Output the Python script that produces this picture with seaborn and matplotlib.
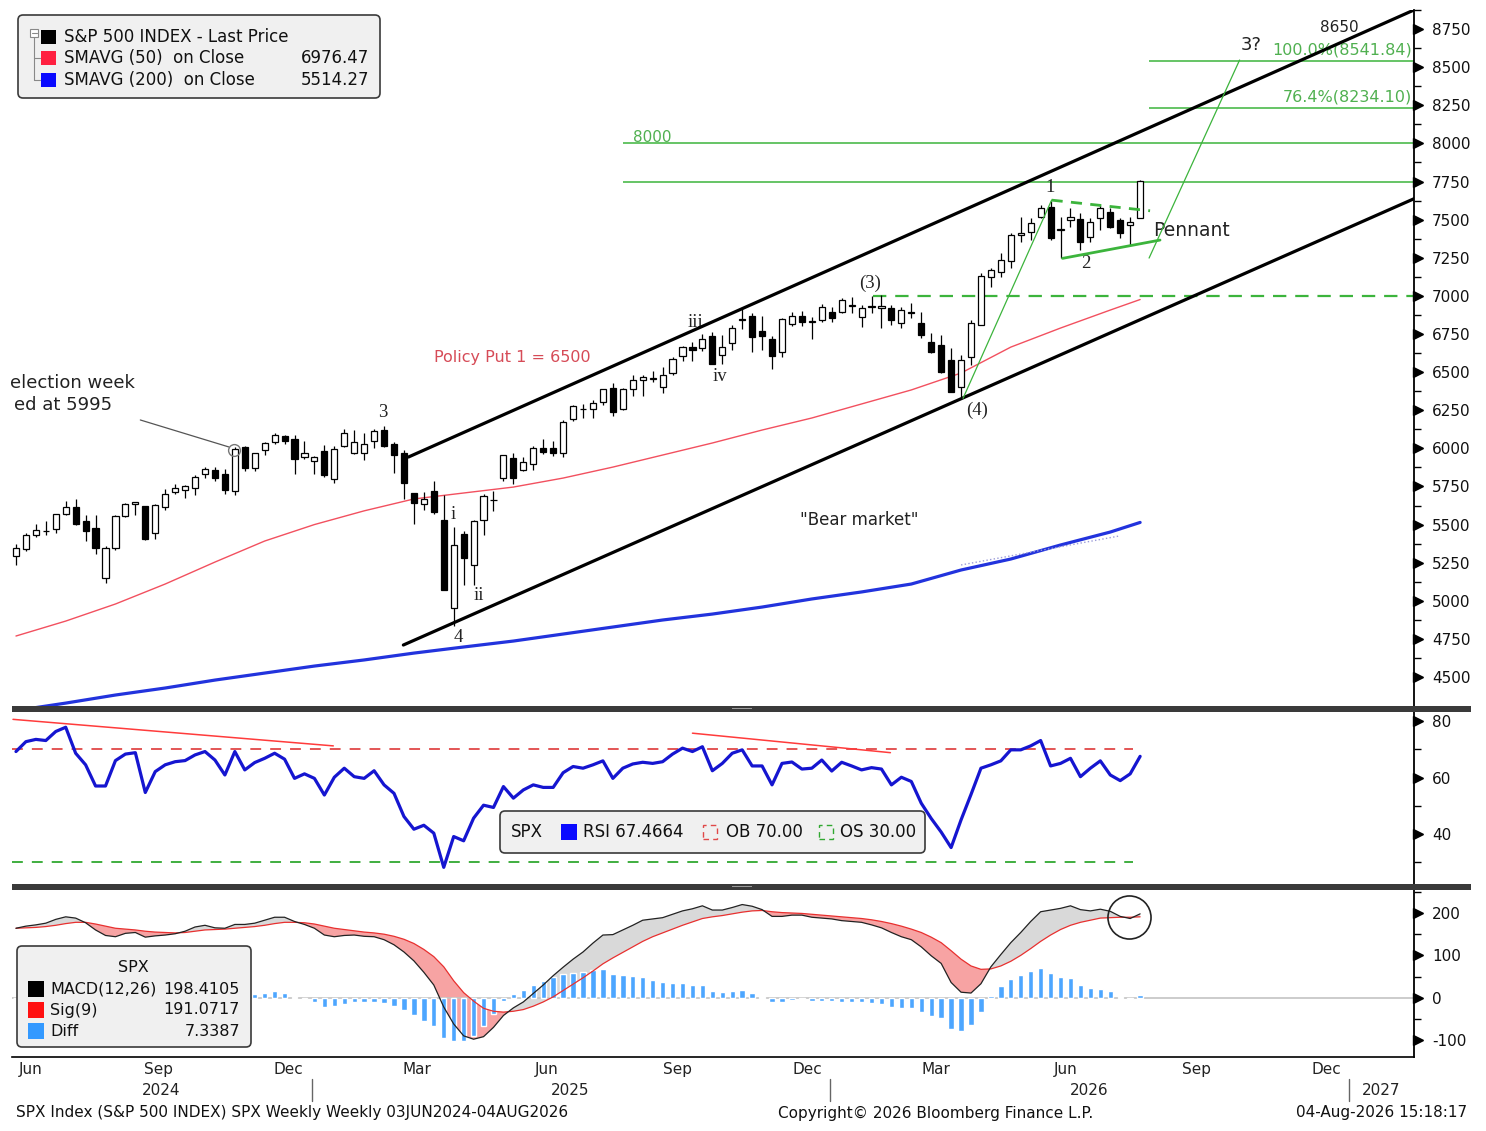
import numpy as np
import pandas as pd
import matplotlib
matplotlib.use("Agg")
import matplotlib.pyplot as plt
import matplotlib.dates as mdates
from matplotlib.patches import FancyBboxPatch, Rectangle
from matplotlib.lines import Line2D
from matplotlib.transforms import IdentityTransform
import seaborn as sns

# ==========================================
# DATOS (velas semanales SPX, 03JUN2024 - 04AUG2026)
# ==========================================
apertura = [
    5297, 5341, 5431, 5460, 5471, 5572, 5616, 5525, 5476, 5151,
    5345, 5557, 5637, 5623, 5442, 5615, 5711, 5727, 5737, 5830,
    5857, 5833, 5723, 6008, 5874, 5992, 6040, 6083, 6063, 5940,
    5920, 5982, 5797, 6014, 5969, 5969, 6046, 6121, 6026, 5969,
    5705, 5635, 5718, 5527, 4953, 5441, 5233, 5529, 5659, 5808,
    5935, 5855, 5897, 6004, 6005, 5970, 6193, 6255, 6255, 6304,
    6397, 6260, 6389, 6445, 6457, 6401, 6494, 6604, 6664, 6661,
    6740, 6610, 6690, 6850, 6868, 6770, 6719, 6629, 6813, 6870,
    6830, 6840, 6896, 6896, 6935, 6863, 6930, 6918, 6918, 6819,
    6896, 6824, 6699, 6677, 6579, 6404, 6601, 6809, 7121, 7158,
    7231, 7399, 7421, 7519, 7585, 7432, 7497, 7502, 7388, 7508,
    7552, 7497, 7464, 7508]
maximo = [
    5375, 5447, 5505, 5524, 5570, 5655, 5670, 5564, 5566, 5360,
    5564, 5643, 5651, 5623, 5636, 5733, 5767, 5762, 5822, 5878,
    5878, 5863, 6012, 6018, 5972, 6044, 6099, 6085, 6085, 6050,
    5950, 6022, 6014, 6128, 6120, 6101, 6127, 6147, 6044, 5986,
    5705, 5715, 5787, 5695, 5481, 5460, 5528, 5700, 5720, 5958,
    5968, 5944, 6016, 6059, 6050, 6187, 6284, 6290, 6315, 6390,
    6427, 6395, 6481, 6478, 6509, 6533, 6600, 6671, 6699, 6750,
    6764, 6744, 6808, 6920, 6890, 6869, 6737, 6853, 6895, 6901,
    6860, 6945, 6930, 6984, 6994, 6940, 7000, 7005, 6940, 6929,
    6951, 6896, 6754, 6743, 6656, 6612, 6841, 7147, 7180, 7279,
    7410, 7519, 7508, 7596, 7624, 7519, 7574, 7541, 7508, 7596,
    7574, 7508, 7519, 7760]
minimo = [
    5234, 5325, 5420, 5433, 5446, 5562, 5497, 5391, 5306, 5120,
    5330, 5547, 5561, 5402, 5406, 5597, 5698, 5675, 5696, 5804,
    5783, 5703, 5696, 5853, 5854, 5956, 6030, 6026, 5832, 5933,
    5829, 5809, 5774, 6007, 5962, 5923, 6003, 6009, 5837, 5666,
    5505, 5597, 5572, 5069, 4835, 5101, 5102, 5434, 5590, 5786,
    5767, 5854, 5861, 5963, 5952, 5944, 6178, 6201, 6202, 6281,
    6212, 6250, 6342, 6343, 6432, 6360, 6480, 6570, 6570, 6640,
    6550, 6550, 6646, 6782, 6631, 6646, 6521, 6600, 6800, 6800,
    6720, 6830, 6830, 6885, 6885, 6798, 6885, 6787, 6809, 6787,
    6852, 6721, 6623, 6492, 6371, 6339, 6546, 6809, 7060, 7126,
    7180, 7355, 7366, 7508, 7366, 7246, 7454, 7301, 7355, 7432,
    7443, 7377, 7333, 7508]
cierre = [
    5347, 5431, 5465, 5460, 5567, 5615, 5505, 5459, 5346, 5344,
    5554, 5634, 5648, 5408, 5626, 5703, 5738, 5751, 5815, 5864,
    5808, 5729, 5995, 5870, 5969, 6032, 6090, 6051, 5931, 5971,
    5942, 5827, 5997, 6101, 6041, 6026, 6115, 6013, 5955, 5770,
    5639, 5667, 5581, 5074, 5363, 5283, 5525, 5686, 5660, 5958,
    5803, 5912, 6000, 5977, 5968, 6173, 6279, 6260, 6297, 6389,
    6238, 6389, 6450, 6467, 6460, 6482, 6584, 6664, 6644, 6716,
    6553, 6664, 6792, 6840, 6729, 6734, 6603, 6849, 6870, 6827,
    6834, 6930, 6858, 6973, 6942, 6918, 6936, 6933, 6841, 6907,
    6885, 6743, 6634, 6503, 6371, 6579, 6819, 7130, 7169, 7235,
    7399, 7410, 7475, 7574, 7377, 7436, 7519, 7355, 7486, 7574,
    7454, 7410, 7486, 7755]

sma50_semana = [0, 5, 10, 15, 20, 25, 30, 35, 40, 45, 50, 55,
                60, 65, 70, 75, 80, 85, 90, 95, 100, 105, 110, 113]
sma50_valor = [4769, 4867, 4979, 5110, 5254, 5392, 5500, 5590, 5668, 5707, 5746, 5805,
               5877, 5956, 6035, 6120, 6199, 6291, 6383, 6494, 6664, 6789, 6907, 6976]
sma200_semana = [0, 5, 10, 15, 20, 25, 30, 35, 40, 45, 50, 55,
                 60, 65, 70, 75, 80, 85, 90, 95, 100, 105, 110, 113]
sma200_valor = [4280, 4329, 4382, 4428, 4480, 4526, 4572, 4612, 4657, 4697, 4736, 4782,
                4828, 4874, 4913, 4959, 5012, 5058, 5110, 5202, 5274, 5366, 5451, 5514]

rsi = [
    69.2, 72.7, 73.5, 73.1, 76.3, 77.8, 68.6, 64.5, 57.0, 57.0,
    66.0, 68.3, 68.8, 54.7, 62.1, 64.5, 65.6, 66.0, 68.0, 69.2,
    66.2, 60.9, 69.2, 62.7, 65.3, 66.8, 68.6, 66.5, 59.7, 61.3,
    59.7, 53.8, 60.1, 63.3, 60.3, 59.7, 62.4, 57.4, 54.4, 46.2,
    41.7, 43.1, 40.3, 28.2, 39.1, 37.6, 45.6, 50.2, 49.4, 56.8,
    52.7, 55.6, 57.4, 56.5, 56.5, 61.7, 63.9, 63.3, 64.5, 65.9,
    59.7, 63.3, 64.8, 65.4, 65.0, 65.6, 68.3, 70.4, 69.2, 70.9,
    62.4, 65.0, 68.6, 69.8, 64.1, 64.1, 57.4, 65.0, 65.5, 63.0,
    63.3, 66.2, 62.3, 65.4, 64.1, 62.7, 63.5, 63.0, 57.4, 60.1,
    58.6, 50.9, 45.5, 40.7, 35.2, 45.0, 54.0, 63.3, 64.5, 65.9,
    69.8, 69.8, 71.2, 73.1, 64.1, 65.0, 66.8, 60.3, 63.3, 65.9,
    60.9, 58.9, 61.3, 67.5]

macd = [
    164, 169, 172, 176, 185, 191, 188, 177, 160, 147,
    144, 152, 154, 143, 146, 148, 151, 157, 167, 171,
    165, 164, 173, 173, 176, 183, 190, 190, 180, 173,
    164, 148, 144, 147, 148, 145, 144, 137, 125, 108,
    87, 60, 30, -22, -62, -90, -98, -92, -70, -42,
    -24, -10, 10, 30, 52, 72, 91, 108, 129, 148,
    149, 160, 171, 183, 186, 189, 197, 205, 210, 217,
    207, 207, 213, 220, 216, 208, 192, 192, 195, 195,
    190, 188, 186, 182, 180, 178, 172, 165, 154, 144,
    137, 120, 99, 81, 36, 13, 11, 33, 73, 102,
    130, 154, 180, 203, 207, 211, 217, 208, 205, 209,
    204, 192, 187, 198]
senal = [
    164, 165, 166, 168, 171, 175, 178, 178, 174, 169,
    164, 162, 160, 157, 155, 154, 153, 154, 157, 160,
    161, 162, 164, 166, 168, 171, 175, 178, 178, 177,
    174, 169, 164, 161, 158, 155, 153, 150, 145, 138,
    128, 114, 97, 73, 40, 12, -8, -25, -32, -34,
    -32, -28, -20, -10, 2, 17, 32, 47, 63, 80,
    94, 107, 120, 133, 144, 153, 162, 171, 179, 187,
    191, 194, 198, 202, 205, 206, 203, 201, 200, 199,
    197, 195, 193, 191, 189, 187, 184, 180, 175, 169,
    162, 154, 143, 130, 111, 91, 75, 67, 68, 75,
    86, 100, 116, 133, 148, 161, 171, 178, 183, 188,
    189, 190, 190, 191]
diferencia = [
    0, 4, 6, 8, 14, 16, 10, -1, -14, -22,
    -20, -10, -6, -14, -9, -6, -2, 3, 10, 11,
    4, 2, 9, 7, 8, 12, 15, 12, 2, -4,
    -10, -21, -20, -14, -10, -10, -9, -13, -20, -30,
    -41, -54, -67, -95, -102, -102, -90, -67, -38, -8,
    8, 18, 30, 40, 50, 55, 59, 61, 66, 68,
    55, 53, 51, 50, 42, 36, 35, 34, 31, 30,
    16, 13, 15, 18, 11, 2, -11, -9, -5, -4,
    -7, -7, -7, -9, -9, -9, -12, -15, -21, -25,
    -25, -34, -44, -49, -75, -78, -64, -34, 5, 27,
    44, 54, 64, 70, 59, 50, 46, 30, 22, 21,
    15, 2, -3, 7]

inicio = pd.Timestamp("2024-06-07")
semanas = pd.date_range(inicio, periods=len(cierre), freq="7D")


def fecha(w):
    return inicio + pd.Timedelta(days=7 * w)


# ==========================================
# LIENZO
# ==========================================
sns.set_style("white")
plt.rcParams["font.family"] = ["DejaVu Sans"]
plt.rcParams["axes.unicode_minus"] = False

W, H = 1486, 1131
fig = plt.figure(figsize=(W / 100, H / 100), dpi=100)
PX = IdentityTransform()


def ejes(arriba, abajo):
    return fig.add_axes([12 / W, 1 - abajo / H, (1414 - 12) / W, (abajo - arriba) / H])


ax_p = ejes(10, 706)
ax_r = ejes(712, 884)
ax_m = ejes(889, 1057)

x0 = pd.Timestamp("2024-06-04 05:00")
x1 = pd.Timestamp("2027-02-15 17:00")


def estilo(ax, mayores, menores, lim):
    ax.set_xlim(x0, x1)
    ax.set_ylim(*lim)
    for s in ["top", "left", "bottom"]:
        ax.spines[s].set_visible(False)
    ax.spines["right"].set_color("black")
    ax.spines["right"].set_linewidth(1.3)
    ax.yaxis.tick_right()
    ax.set_yticks(mayores)
    ax.set_yticks(menores, minor=True)
    ax.tick_params(axis="y", which="major", length=0, pad=13, labelsize=11, colors="#111111")
    ax.tick_params(axis="y", which="minor", length=5, width=1, direction="out", colors="black")
    ax.plot([1.0 + 4 / 1402] * len(mayores), mayores, marker=">", ms=6.5, color="black",
            ls="none", transform=ax.get_yaxis_transform(), clip_on=False)
    ax.set_xlabel("")
    ax.set_ylabel("")
    ax.grid(False)


VERDE = "#3cb43c"

# ==========================================
# PANEL 1: PRECIO
# ==========================================
df = pd.DataFrame({"fecha": semanas, "o": apertura, "h": maximo, "l": minimo, "c": cierre})
sube = df["c"] >= df["o"]
ax_p.vlines(df["fecha"], df["l"], df["h"], color="black", lw=0.9, zorder=3)
ax_p.bar(df["fecha"][sube], (df["c"] - df["o"])[sube], bottom=df["o"][sube], width=4.3,
         color="white", edgecolor="black", lw=0.9, zorder=4)
ax_p.bar(df["fecha"][~sube], (df["o"] - df["c"])[~sube], bottom=df["c"][~sube], width=4.3,
         color="black", edgecolor="black", lw=0.9, zorder=4)

sns.lineplot(x=semanas[sma50_semana], y=sma50_valor, ax=ax_p, color="#f2505f", lw=1.0, zorder=2)
sns.lineplot(x=semanas[sma200_semana], y=sma200_valor, ax=ax_p, color="#2233dd", lw=2.3, zorder=2)
ax_p.plot([fecha(95), fecha(110.9)], [5235, 5425], color="#9a9ad8", lw=1, ls=":", zorder=2)

# canal
ax_p.plot([fecha(39.45), fecha(140.7)], [5943, 8880], color="black", lw=2.3, zorder=5)
ax_p.plot([fecha(38.94), fecha(140.7)], [4710, 7642], color="black", lw=2.3, zorder=5)

# niveles horizontales
ax_p.hlines([8000, 7750], fecha(61), x1, color=VERDE, lw=1.1, zorder=2)
ax_p.hlines([8541.84, 8234.10], fecha(113.9), x1, color=VERDE, lw=1.1, zorder=2)
ax_p.hlines(7000, fecha(86.1), x1, color=VERDE, lw=1.6, linestyles=(0, (6, 4)), zorder=2)

# lineas de ondas y banderin
ax_p.plot([fecha(95.2), fecha(104.1)], [6328, 7628], color=VERDE, lw=0.9, zorder=5)
ax_p.plot([fecha(113.9), fecha(123.0)], [7248, 8547], color=VERDE, lw=0.9, zorder=5)
ax_p.plot([fecha(105.2), fecha(115.0)], [7246, 7366], color=VERDE, lw=2.0, zorder=5)
ax_p.plot([fecha(104.1), fecha(114.0)], [7628, 7558], color=VERDE, lw=2.0, ls=(0, (4, 3)), zorder=5)

# anotacion semana electoral (solo la parte visible en el original)
ax_p.plot([fecha(12.5), fecha(21.4)], [6186, 6009], color="#555555", lw=0.9, zorder=5)
ax_p.plot([fecha(21.9)], [5989], marker="o", ms=8.5, mfc="none", mec="#777777", mew=1, zorder=6)
ax_p.text(fecha(12.0), 6428, "election week", ha="right", va="center", fontsize=13, color="#222222")
ax_p.text(fecha(9.66), 6284, "ed at 5995", ha="right", va="center", fontsize=13, color="#222222")

ax_p.text(fecha(42), 6599, "Policy Put 1 = 6500", ha="left", va="center", fontsize=11.5, color="#d64b57")
ax_p.text(fecha(84.8), 5530, "\"Bear market\"", ha="center", va="center", fontsize=12, color="#222222")
ax_p.text(fecha(114.3), 7432, "Pennant", ha="left", va="center", fontsize=13.5, color="#222222")
ax_p.text(fecha(64), 8042, "8000", ha="center", va="center", fontsize=11, color="#50b050")
ax_p.text(fecha(140.3), 8612, "100.0%(8541.84)", ha="right", va="center", fontsize=11.5, color="#50b050")
ax_p.text(fecha(140.3), 8304, "76.4%(8234.10)", ha="right", va="center", fontsize=11.5, color="#50b050")
ax_p.text(fecha(133), 8763, "8650", ha="center", va="center", fontsize=11, color="#222222")
ax_p.text(fecha(124.2), 8645, "3?", ha="center", va="center", fontsize=13, color="#222222")

ondas = [("3", 36.9, 6238), ("4", 44.5, 4762), ("i", 44.0, 5563), ("ii", 46.5, 5038),
         ("iii", 68.3, 6828), ("iv", 70.8, 6468), ("(3)", 85.9, 7084), ("(4)", 96.6, 6251),
         ("1", 104.0, 7714), ("2", 107.5, 7215)]
for etiqueta, w, p in ondas:
    ax_p.text(fecha(w), p, etiqueta, ha="center", va="center", fontsize=13.5,
              family="Liberation Serif", color="#222222")

estilo(ax_p, list(range(4500, 8751, 250)), list(range(4625, 8876, 250)), (4310, 8875))
ax_p.set_xticks([])

# ==========================================
# PANEL 2: RSI
# ==========================================
sns.lineplot(x=semanas, y=rsi, ax=ax_r, color="#1515d0", lw=2.3, zorder=3)
ax_r.hlines(70, x0, fecha(112.3), color="#e04848", lw=1.3, linestyles=(0, (6, 5)), zorder=2)
ax_r.hlines(30, x0, fecha(112.3), color="#30a830", lw=1.3, linestyles=(0, (6, 5)), zorder=2)
ax_r.plot([fecha(-0.3), fecha(31.9)], [80.6, 71.2], color="#ff3b3b", lw=1.1, zorder=2)
ax_r.plot([fecha(68.0), fecha(87.9)], [75.7, 68.8], color="#ff3b3b", lw=1.1, zorder=2)
estilo(ax_r, [40, 60, 80], [30, 50, 70], (22.3, 83.2))
ax_r.set_xticks([])

# ==========================================
# PANEL 3: MACD
# ==========================================
m = np.array(macd, dtype=float)
s = np.array(senal, dtype=float)
ax_m.fill_between(semanas, m, s, where=m >= s, interpolate=True, color="#d9d9d9", lw=0, zorder=1)
ax_m.fill_between(semanas, m, s, where=m < s, interpolate=True, color="#f7a3a3", lw=0, zorder=1)
ax_m.axhline(0, color="#c4c4c4", lw=1.2, zorder=1)
ax_m.bar(semanas, diferencia, width=3.8, color="#4da6ff", zorder=2)
sns.lineplot(x=semanas, y=senal, ax=ax_m, color="#e8302f", lw=0.9, zorder=3)
sns.lineplot(x=semanas, y=macd, ax=ax_m, color="#222222", lw=0.9, zorder=4)
ax_m.plot([fecha(111.9)], [190], marker="o", ms=31, mfc="none", mec="#222222", mew=1.2, zorder=5)
estilo(ax_m, [-100, 0, 100, 200], [-50, 50, 150, 250], (-140, 256.7))
ax_m.spines["bottom"].set_visible(True)
ax_m.spines["bottom"].set_color("black")
ax_m.spines["bottom"].set_linewidth(1.2)
ax_m.xaxis.set_major_locator(mdates.MonthLocator())
ax_m.xaxis.set_major_formatter(plt.NullFormatter())
ax_m.tick_params(axis="x", which="major", length=6, width=1, direction="out", colors="black")

# meses y anios
tr = ax_m.get_xaxis_transform()
meses = {3: "Mar", 6: "Jun", 9: "Sep", 12: "Dec"}
for anio in [2024, 2025, 2026]:
    for mes, nombre in meses.items():
        ini = pd.Timestamp(anio, mes, 1)
        fin = ini + pd.offsets.MonthEnd(1)
        ini, fin = max(ini, x0), min(fin, x1)
        if ini >= fin:
            continue
        ax_m.text(ini + (fin - ini) / 2, -0.077, nombre, transform=tr, ha="center", va="center",
                  fontsize=11, color="#222222", clip_on=False)
for anio in [2024, 2025, 2026, 2027]:
    ini = max(pd.Timestamp(anio, 1, 1), x0)
    fin = min(pd.Timestamp(anio, 12, 31), x1)
    ax_m.text(ini + (fin - ini) / 2, -0.20, str(anio), transform=tr, ha="center", va="center",
              fontsize=11, color="#222222", clip_on=False)
    if anio > 2024:
        ax_m.plot([pd.Timestamp(anio, 1, 1)] * 2, [-0.13, -0.262], transform=tr, color="#666666",
                  lw=1, clip_on=False)

# ==========================================
# SEPARADORES, LEYENDAS Y PIE
# ==========================================
def rect(x0_, y0_, x1_, y1_, **kw):
    fig.add_artist(Rectangle((x0_, H - y1_), x1_ - x0_, y1_ - y0_, transform=PX, **kw))


def caja(x0_, y0_, x1_, y1_):
    fig.add_artist(FancyBboxPatch((x0_, H - y1_), x1_ - x0_, y1_ - y0_,
                                  boxstyle="round,pad=0,rounding_size=5", transform=PX,
                                  facecolor="#f0f0f0", edgecolor="#3a3a3a", lw=1.2, zorder=10))


def texto(x, y, s_, **kw):
    kw.setdefault("va", "center")
    kw.setdefault("color", "#111111")
    fig.text(x, H - y, s_, transform=PX, zorder=11, **kw)


def linea(xs, ys, **kw):
    fig.add_artist(Line2D(xs, [H - y for y in ys], transform=PX, zorder=11, **kw))


for y_a, y_b in [(706, 712), (884, 890)]:
    rect(12, y_a, 1471, y_b, facecolor="#3a3a3a", edgecolor="none", zorder=6)
    rect(732, y_a + 2, 752, y_a + 3, facecolor="#9a9a9a", edgecolor="none", zorder=7)

# leyenda superior
caja(18, 15, 380, 98)
rect(30, 29, 38, 37, facecolor="white", edgecolor="#888888", lw=0.8, zorder=11)
linea([31.5, 36.5], [33, 33], color="#888888", lw=0.8)
linea([34, 34, 40], [37, 58, 58], color="#888888", lw=0.8)
linea([34, 34, 40], [58, 80, 80], color="#888888", lw=0.8)
for yy, col in [(37, "black"), (58, "#ff2040"), (80, "#0a0aff")]:
    rect(41, yy - 7, 56, yy + 7, facecolor=col, edgecolor="none", zorder=11)
texto(64, 37, "S&P 500 INDEX - Last Price", fontsize=12)
texto(64, 58, "SMAVG (50)  on Close", fontsize=12)
texto(64, 80, "SMAVG (200)  on Close", fontsize=12)
texto(369, 58, "6976.47", fontsize=12, ha="right")
texto(369, 80, "5514.27", fontsize=12, ha="right")

# leyenda RSI
caja(500, 811, 925, 853)
texto(511, 832, "SPX", fontsize=12)
rect(561, 824, 577, 840, facecolor="#0a0aff", edgecolor="none", zorder=11)
texto(583, 832, "RSI 67.4664", fontsize=12)
rect(703, 825, 717, 839, facecolor="none", edgecolor="#e04848", lw=1, ls=(0, (4, 3)), zorder=11)
texto(726, 832, "OB 70.00", fontsize=12)
rect(819, 825, 833, 839, facecolor="none", edgecolor="#30a830", lw=1, ls=(0, (4, 3)), zorder=11)
texto(840, 832, "OS 30.00", fontsize=12)

# leyenda MACD
caja(17, 946, 251, 1047)
texto(133, 967, "SPX", fontsize=11.5, ha="center")
for yy, col, nom, val in [(989, "black", "MACD(12,26)", "198.4105"),
                          (1010, "#ff1010", "Sig(9)", "191.0717"),
                          (1031, "#3399ff", "Diff", "7.3387")]:
    rect(28, yy - 8, 44, yy + 8, facecolor=col, edgecolor="none", zorder=11)
    texto(50, yy, nom, fontsize=11.5)
    texto(240, yy, val, fontsize=11.5, ha="right")

# pie
texto(16, 1113, "SPX Index (S&P 500 INDEX) SPX Weekly Weekly 03JUN2024-04AUG2026", fontsize=11)
texto(778, 1113, "Copyright\u00a9 2026 Bloomberg Finance L.P.", fontsize=11)
texto(1467, 1113, "04-Aug-2026 15:18:17", fontsize=11, ha="right")

fig.savefig("out.png", dpi=100, facecolor="white")
